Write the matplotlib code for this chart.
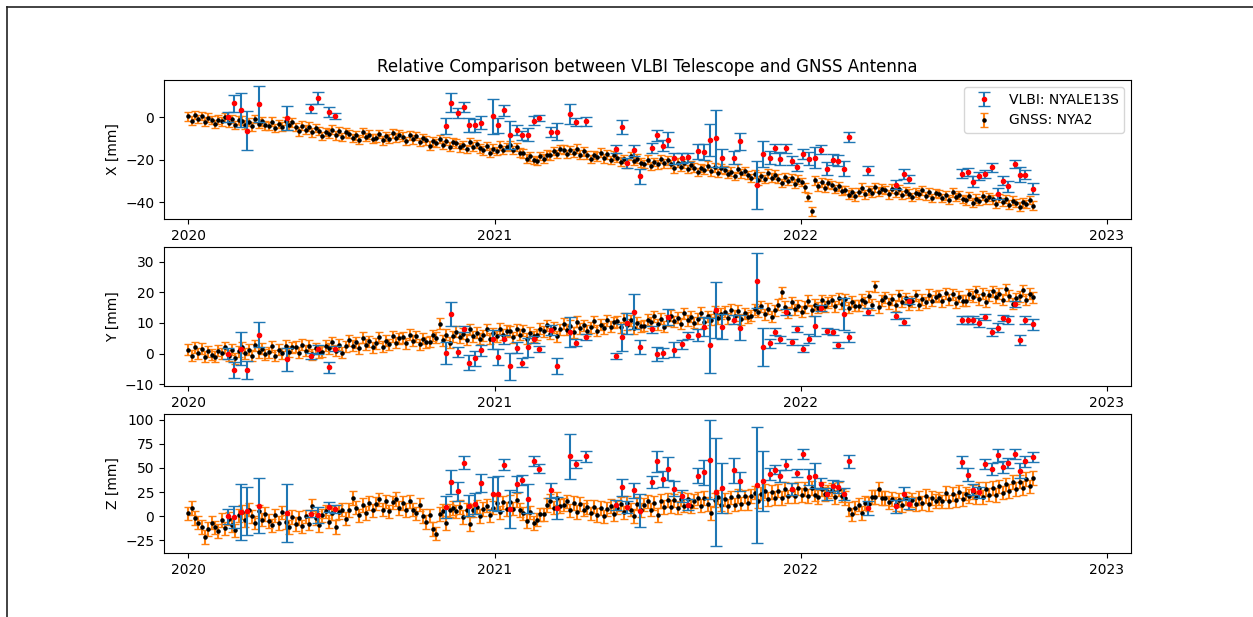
import numpy as np
import pandas as pd
import matplotlib
matplotlib.use("Agg")
import matplotlib.pyplot as plt
import matplotlib.dates as mdates
from matplotlib.lines import Line2D

# ---------------- VLBI sessions (NYALE13S) ----------------
vlbi_dates = [
    "2020-02-17", "2020-02-25", "2020-03-04", "2020-03-11", "2020-03-25", "2020-04-28",
    "2020-05-27", "2020-06-04", "2020-06-17", "2020-06-24", "2020-11-04", "2020-11-10",
    "2020-11-18", "2020-11-25", "2020-12-01", "2020-12-08", "2020-12-15", "2020-12-30",
    "2021-01-05", "2021-01-12", "2021-01-19", "2021-01-27", "2021-02-02", "2021-02-09",
    "2021-02-17", "2021-02-23", "2021-03-09", "2021-03-16", "2021-03-31", "2021-04-08",
    "2021-04-20", "2021-05-26", "2021-06-01", "2021-06-08", "2021-06-16", "2021-06-23",
    "2021-07-07", "2021-07-13", "2021-07-21", "2021-07-27", "2021-08-03", "2021-08-12",
    "2021-08-19", "2021-08-31", "2021-09-08", "2021-09-15", "2021-09-22", "2021-09-29",
    "2021-10-13", "2021-10-20", "2021-11-10", "2021-11-17", "2021-11-25", "2021-12-01",
    "2021-12-07", "2021-12-14", "2021-12-21", "2021-12-28", "2022-01-03", "2022-01-11",
    "2022-01-18", "2022-01-25", "2022-02-01", "2022-02-08", "2022-02-14", "2022-02-21",
    "2022-02-28", "2022-03-22", "2022-04-25", "2022-05-04", "2022-05-10", "2022-07-12",
    "2022-07-19", "2022-07-26", "2022-08-02", "2022-08-09", "2022-08-17", "2022-08-24",
    "2022-08-30", "2022-09-05", "2022-09-13", "2022-09-20", "2022-09-26", "2022-10-05",
]
vlbi_x = [0.0, 6.6, 3.3, -6.3, 6.1, -0.5, 4.1, 8.8, 2.4, 0.3, -4.2, 6.7,
          2.0, 4.9, -3.8, -3.8, -2.7, 0.3, -3.8, 3.3, -8.5, -6.1, -8.6, -8.3,
          -1.6, -0.5, -6.9, -6.9, 1.6, -2.2, -2.0, -14.9, -4.7, -21.5, -15.5, -27.8,
          -14.4, -8.6, -13.3, -10.5, -19.3, -19.1, -18.8, -16.0, -16.5, -10.8, -10.0, -19.1,
          -19.1, -11.4, -31.8, -17.2, -19.1, -14.7, -19.5, -14.7, -20.4, -23.4, -17.3, -19.5,
          -19.1, -15.2, -24.2, -19.9, -20.4, -24.2, -9.4, -24.9, -31.7, -26.7, -29.0, -26.5,
          -25.7, -30.3, -27.5, -26.7, -23.5, -35.9, -29.8, -32.5, -22.0, -27.0, -27.0, -33.6]
vlbi_x_err = [2.4, 4.0, 7.8, 9.0, 8.5, 5.6, 2.0, 2.8, 2.4, 1.4, 3.6, 4.4,
              2.5, 2.3, 3.3, 3.0, 3.0, 8.0, 3.5, 2.6, 6.5, 2.5, 2.2, 3.0,
              2.0, 1.5, 2.5, 4.0, 4.7, 2.0, 2.0, 2.0, 3.3, 2.5, 2.5, 3.7,
              2.5, 2.8, 2.5, 3.6, 2.5, 2.5, 2.0, 3.5, 3.8, 7.4, 13.4, 4.3,
              3.0, 4.1, 11.3, 6.0, 3.0, 2.0, 3.0, 2.0, 2.0, 2.0, 2.5, 3.0,
              4.9, 2.0, 3.0, 2.5, 2.5, 3.5, 2.4, 2.0, 2.0, 2.2, 2.0, 2.0,
              2.0, 2.5, 2.0, 2.0, 2.0, 2.5, 2.0, 2.5, 2.0, 3.5, 2.0, 2.5]
vlbi_y = [0.0, -5.3, 1.6, -5.3, 6.2, -1.9, -0.8, 1.4, -4.5, 1.6, 0.2, 12.9,
          0.5, 7.9, -3.0, -1.6, 1.1, 4.6, -1.1, 4.6, -4.2, 1.9, -3.0, 2.0,
          4.6, 1.6, 7.7, -4.2, 7.1, 3.6, 5.3, -0.8, 5.3, 9.9, 13.7, 2.2,
          7.9, -0.2, 0.3, 12.0, 1.3, 3.0, 5.8, 6.0, 8.8, 2.7, 14.2, 8.8,
          11.0, 8.5, 23.8, 2.2, 3.3, 7.1, 4.6, 13.7, 3.8, 7.9, 1.6, 4.9,
          9.0, 14.8, 7.4, 6.9, 2.7, 12.9, 5.3, 13.7, 12.4, 10.4, 17.2, 11.0,
          11.0, 11.0, 10.1, 11.8, 7.1, 8.5, 11.5, 11.0, 16.1, 4.4, 11.0, 9.5]
vlbi_y_err = [1.8, 2.7, 5.4, 3.0, 4.2, 3.8, 1.0, 1.5, 1.7, 0.9, 3.5, 3.9,
              1.6, 1.0, 2.5, 2.4, 1.8, 3.0, 2.7, 1.6, 4.5, 1.8, 1.5, 3.2,
              1.0, 1.0, 1.5, 2.6, 4.9, 1.2, 1.0, 1.0, 4.5, 3.4, 5.6, 2.2,
              1.2, 2.2, 1.6, 2.6, 2.5, 1.5, 1.2, 1.9, 3.0, 9.0, 9.2, 4.0,
              1.5, 4.2, 8.9, 6.1, 1.6, 1.2, 1.2, 1.0, 1.0, 1.0, 1.2, 1.5,
              3.4, 1.0, 1.0, 1.0, 1.0, 5.1, 1.6, 1.2, 1.2, 1.2, 1.0, 1.2,
              1.2, 1.2, 1.5, 1.0, 1.3, 1.5, 1.0, 1.2, 1.0, 1.6, 1.2, 1.7]
vlbi_z = [0.0, -0.7, 4.1, 5.2, 11.0, 3.4, 2.8, 1.4, 9.7, 7.6, 9.7, 35.5,
          25.9, 55.5, 11.0, 13.1, 34.5, 23.4, 23.4, 53.4, 7.6, 33.4, 37.9, 18.3,
          56.9, 49.3, 26.9, 8.6, 62.0, 54.1, 62.0, 12.0, 30.0, 9.7, 26.9, 5.9,
          35.5, 56.9, 38.6, 49.3, 28.6, 20.7, 12.0, 42.0, 45.5, 58.6, 25.2, 29.3,
          47.6, 36.2, 32.8, 36.2, 43.8, 48.3, 42.0, 53.4, 28.3, 44.8, 64.8, 40.7,
          42.0, 33.8, 23.1, 31.7, 30.3, 23.1, 56.9, 8.6, 10.3, 23.4, 13.1, 55.9,
          43.1, 27.6, 24.8, 54.1, 49.0, 63.1, 51.0, 55.2, 64.5, 47.2, 56.9, 61.4]
vlbi_z_err = [8.0, 11.0, 29.0, 25.0, 28.8, 30.0, 4.0, 8.0, 5.5, 4.0, 11.0, 12.0,
              10.0, 6.4, 11.0, 11.0, 9.0, 17.0, 18.0, 5.9, 20.0, 8.0, 5.0, 15.0,
              5.0, 5.0, 8.0, 11.7, 23.0, 4.5, 5.9, 5.0, 8.6, 6.0, 8.0, 16.7,
              6.5, 11.0, 8.0, 12.0, 8.0, 6.0, 6.0, 7.8, 13.0, 41.0, 56.0, 26.0,
              13.0, 10.0, 60.0, 31.0, 6.0, 5.0, 6.0, 6.0, 6.0, 4.0, 5.2, 8.0,
              13.0, 6.0, 6.0, 6.0, 6.0, 6.0, 6.8, 7.0, 7.0, 6.5, 6.0, 6.4,
              7.0, 6.0, 6.0, 5.0, 6.0, 7.0, 6.5, 5.0, 5.0, 8.0, 5.5, 5.0]

# ---------------- GNSS (NYA2), one value every 4 days from 2020-01-01 ----------------
gnss_start = "2020-01-01"
gnss_step_days = 4
gnss_x = [
    0.3, -1.7, 1.0, -0.9, 0.6, -2.1, -0.2, -1.4,
    -3.2, -1.2, -2.0, -0.1, -2.8, -0.9, -3.6, -1.4,
    -1.6, -3.5, -2.3, -4.3, -0.9, -3.1, -2.0, -3.9,
    -4.1, -2.1, -5.2, -3.3, -4.4, -1.9, -3.9, -2.5,
    -4.7, -6.7, -4.0, -5.9, -4.4, -7.1, -5.2, -6.4,
    -8.9, -6.9, -7.7, -5.8, -8.5, -6.6, -9.3, -7.1,
    -7.8, -9.7, -8.5, -10.5, -7.1, -9.3, -8.2, -10.1,
    -9.8, -7.8, -10.9, -9.0, -10.1, -7.6, -9.6, -8.2,
    -9.2, -11.2, -8.5, -10.4, -8.9, -11.6, -9.7, -10.9,
    -13.4, -11.4, -12.2, -10.3, -13.0, -11.1, -13.8, -11.6,
    -12.3, -14.2, -13.0, -15.0, -11.6, -13.8, -12.7, -14.6,
    -15.6, -13.6, -16.7, -14.8, -15.9, -13.4, -15.4, -14.0,
    -13.2, -15.4, -13.9, -16.6, -17.0, -19.4, -18.4, -20.2,
    -20.6, -18.3, -19.5, -17.6, -17.9, -15.8, -17.2, -15.0,
    -15.2, -17.3, -15.5, -16.9, -14.8, -17.6, -16.0, -17.8,
    -19.7, -17.7, -18.5, -16.6, -19.3, -17.4, -20.1, -17.9,
    -19.0, -20.9, -19.7, -21.7, -18.3, -20.5, -19.4, -21.3,
    -21.9, -19.9, -23.0, -21.1, -22.2, -19.7, -21.7, -20.3,
    -22.0, -24.0, -21.3, -23.2, -21.7, -24.4, -22.5, -23.7,
    -25.8, -23.8, -24.6, -22.7, -25.4, -23.5, -26.2, -24.0,
    -24.8, -26.7, -25.5, -27.5, -24.1, -26.3, -25.2, -27.1,
    -28.6, -26.6, -29.7, -27.8, -28.9, -26.4, -28.4, -27.0,
    -28.8, -30.8, -28.1, -30.0, -28.5, -31.2, -29.3, -30.5,
    -32.9, -37.5, -44.2, -29.6, -32.4, -30.6, -33.3, -31.1,
    -31.8, -33.7, -32.5, -34.5, -34.1, -36.3, -35.2, -37.1,
    -35.1, -33.1, -36.2, -34.3, -35.4, -32.9, -34.9, -33.5,
    -34.2, -36.2, -33.5, -35.4, -33.9, -36.6, -34.7, -35.9,
    -37.4, -35.4, -36.2, -34.3, -37.0, -35.1, -37.8, -35.6,
    -36.0, -37.9, -36.7, -38.7, -35.3, -37.5, -36.4, -38.3,
    -39.0, -37.0, -40.1, -38.2, -39.3, -36.8, -38.8, -37.4,
    -38.6, -40.6, -37.9, -39.8, -38.3, -41.0, -39.1, -40.3,
    -41.9, -39.9, -40.7, -38.8, -41.5,
]
gnss_y = [
    1.3, -0.7, 2.0, 0.1, 1.6, -1.1, 0.8, -0.4,
    -1.1, 0.9, 0.1, 2.0, -0.7, 1.2, -1.5, 0.7,
    2.0, 0.1, 1.3, -0.7, 2.7, 0.5, 1.6, -0.3,
    0.4, 2.4, -0.7, 1.2, 0.1, 2.6, 0.6, 2.0,
    2.2, 0.2, 2.9, 1.0, 2.5, -0.2, 1.7, 0.5,
    0.6, 2.6, 1.8, 3.7, 1.0, 2.9, 0.2, 2.4,
    4.4, 2.5, 3.7, 1.7, 5.1, 2.9, 4.0, 2.1,
    3.4, 5.4, 2.3, 4.2, 3.1, 5.6, 3.6, 5.0,
    5.4, 3.4, 6.1, 4.2, 5.7, 3.0, 4.9, 3.7,
    3.9, 5.9, 5.1, 9.8, 4.3, 6.2, 3.5, 5.7,
    7.2, 5.3, 6.5, 4.5, 7.9, 5.7, 6.8, 4.9,
    5.9, 7.9, 4.8, 6.7, 5.6, 8.1, 6.1, 7.5,
    7.3, 5.3, 8.0, 6.1, 7.6, 4.9, 6.8, 5.6,
    6.1, 8.1, 7.3, 9.2, 6.5, 8.4, 5.7, 7.9,
    9.7, 7.8, 9.0, 7.0, 10.4, 8.2, 9.3, 7.4,
    8.6, 10.6, 7.5, 9.4, 8.3, 10.8, 8.8, 10.2,
    10.6, 8.6, 11.3, 9.4, 10.9, 8.2, 10.1, 8.9,
    9.1, 11.1, 10.3, 12.2, 9.5, 11.4, 8.7, 10.9,
    12.4, 10.5, 11.7, 9.7, 13.1, 10.9, 12.0, 10.1,
    11.4, 13.4, 10.3, 12.2, 11.1, 13.6, 11.6, 13.0,
    13.6, 11.6, 14.3, 12.4, 13.9, 11.2, 13.1, 11.9,
    12.4, 14.4, 13.6, 15.5, 12.8, 14.7, 12.0, 14.2,
    16.0, 20.0, 15.3, 13.3, 16.7, 14.5, 15.6, 13.7,
    15.2, 17.2, 14.1, 16.0, 14.9, 17.4, 15.4, 16.8,
    17.4, 15.4, 18.1, 16.2, 17.7, 15.0, 16.9, 15.6,
    15.6, 17.6, 16.8, 18.7, 16.0, 21.9, 15.2, 17.4,
    18.4, 16.5, 17.7, 15.7, 19.1, 16.9, 18.0, 16.1,
    17.0, 19.0, 15.9, 17.8, 16.7, 19.2, 17.2, 18.6,
    19.0, 17.0, 19.7, 17.8, 19.3, 16.6, 18.5, 17.2,
    17.3, 19.3, 18.5, 20.4, 17.7, 19.6, 16.9, 19.1,
    20.3, 18.4, 19.6, 17.6, 21.0, 18.8, 16.2, 18.0,
    18.7, 20.7, 17.6, 19.5, 18.4,
]
gnss_z = [
    3.0, 8.5, -2.0, -6.5, -11.0, -21.5, -13.0, -6.5,
    -11.5, -15.0, -4.0, -12.5, -2.5, -9.0, -14.5, 1.0,
    4.5, -4.0, 7.0, 0.0, -6.5, 5.0, -3.5, 2.5,
    -5.0, -9.5, 1.0, -7.0, 4.0, -6.0, -11.0, -0.5,
    -8.0, -1.5, -10.5, 0.0, -7.5, 10.5, -2.0, -9.0,
    1.0, 5.0, -5.5, 3.5, -11.0, 4.5, 7.0, -2.5,
    6.5, 19.0, 9.0, 1.0, 11.5, 3.5, 14.0, 6.0,
    13.0, 17.5, 7.0, 15.5, 5.0, 14.5, 18.0, 8.5,
    14.0, 6.5, 15.5, 7.0, 3.0, 12.0, 0.5, -6.0,
    1.0, -13.0, -18.0, 2.5, 5.5, -7.0, 6.0, 8.5,
    5.0, 9.5, -0.5, 7.0, -8.0, 6.0, 10.0, 0.5,
    7.5, 11.0, 1.0, 9.0, 13.5, 4.0, 14.5, 7.5,
    15.0, 8.0, 17.0, 6.5, 3.0, -5.0, 4.0, -7.0,
    -3.5, 2.0, 2.0, 11.5, 16.0, 9.0, 18.5, 10.5,
    12.0, 15.5, 6.0, 13.5, 4.5, 12.5, 7.0, 9.5,
    3.0, 10.0, 1.5, 8.5, 0.0, 7.5, 10.5, 2.5,
    9.0, 12.5, 4.0, 14.0, 7.0, 0.5, 13.0, 6.5,
    12.0, 15.5, 7.0, 14.0, 1.5, 16.0, 9.5, 17.0,
    10.0, 16.5, 9.0, 18.0, 11.0, 17.5, 10.5, 16.0,
    18.5, 11.0, 19.0, 12.5, 3.5, 17.0, 20.0, 12.0,
    17.5, 10.5, 19.5, 12.0, 21.0, 13.0, 20.5, 14.0,
    21.0, 24.5, 16.0, 23.5, 26.0, 18.0, 25.0, 19.0,
    26.5, 19.0, 28.0, 20.5, 27.5, 21.0, 29.0, 22.0,
    28.5, 21.0, 29.5, 22.5, 20.0, 28.0, 23.0, 25.5,
    27.5, 20.0, 28.5, 21.5, 19.0, 7.5, 2.0, 9.0,
    12.0, 3.5, 14.0, 12.5, 20.0, 20.0, 28.5, 19.0,
    19.0, 14.5, 18.0, 12.5, 17.0, 11.5, 18.5, 13.5,
    17.0, 12.5, 19.0, 14.0, 21.0, 12.5, 19.0, 16.0,
    18.5, 15.5, 24.0, 15.5, 23.0, 16.5, 25.5, 18.0,
    23.5, 21.0, 25.0, 19.5, 29.0, 20.0, 28.0, 22.5,
    29.5, 22.0, 31.0, 24.5, 33.0, 26.0, 35.5, 28.0,
    36.0, 29.5, 38.5, 31.0, 39.5,
]
gnss_err = [2.0, 1.8, 7.0]  # X, Y, Z formal errors [mm]

ylabels = ["X [mm]", "Y [mm]", "Z [mm]"]
ylims = [(-47.8, 17.4), (-10.6, 34.8), (-38.0, 106.0)]
yticks = [[-40, -20, 0], [-10, 0, 10, 20, 30], [-25, 0, 25, 50, 75, 100]]
xlim = ("2019-12-03", "2023-01-30")
title = "Relative Comparison between VLBI Telescope and GNSS Antenna"
vlbi_label = "VLBI: NYALE13S"
gnss_label = "GNSS: NYA2"

vlbi_vals = [vlbi_x, vlbi_y, vlbi_z]
vlbi_errs = [vlbi_x_err, vlbi_y_err, vlbi_z_err]
gnss_vals = [gnss_x, gnss_y, gnss_z]

vd = pd.to_datetime(vlbi_dates)

W, H = 1253, 617
fig, axes = plt.subplots(3, 1, figsize=(W / 100, H / 100), dpi=100)
fig.subplots_adjust(left=164 / W, right=1131 / W, top=1 - 80 / H, bottom=1 - 553 / H, hspace=0.2)

for i, ax in enumerate(axes):
    gv = gnss_vals[i]
    gd = pd.date_range(gnss_start, periods=len(gv), freq=f"{gnss_step_days}D")
    ax.errorbar(vd, vlbi_vals[i], yerr=vlbi_errs[i], fmt=".", color="red",
                ecolor="C0", capsize=4, markersize=6, label=vlbi_label, zorder=3)
    ax.errorbar(gd, gv, yerr=gnss_err[i], fmt=".", color="black",
                ecolor="C1", capsize=3, markersize=4.5, label=gnss_label, zorder=2)
    ax.set_ylabel(ylabels[i])
    ax.set_ylim(*ylims[i])
    ax.set_yticks(yticks[i])
    ax.set_xlim(pd.Timestamp(xlim[0]), pd.Timestamp(xlim[1]))
    ax.xaxis.set_major_locator(mdates.YearLocator())
    ax.xaxis.set_major_formatter(mdates.DateFormatter("%Y"))

axes[0].set_title(title)
axes[0].legend(loc="upper right")

# screenshot frame (left and top edge)
fig.add_artist(Line2D([7 / W, 7 / W], [0, 1 - 7 / H], transform=fig.transFigure,
                      color="#222222", lw=1.2))
fig.add_artist(Line2D([7 / W, 1], [1 - 7 / H, 1 - 7 / H], transform=fig.transFigure,
                      color="#222222", lw=1.2))

fig.savefig("out.png", dpi=100)
